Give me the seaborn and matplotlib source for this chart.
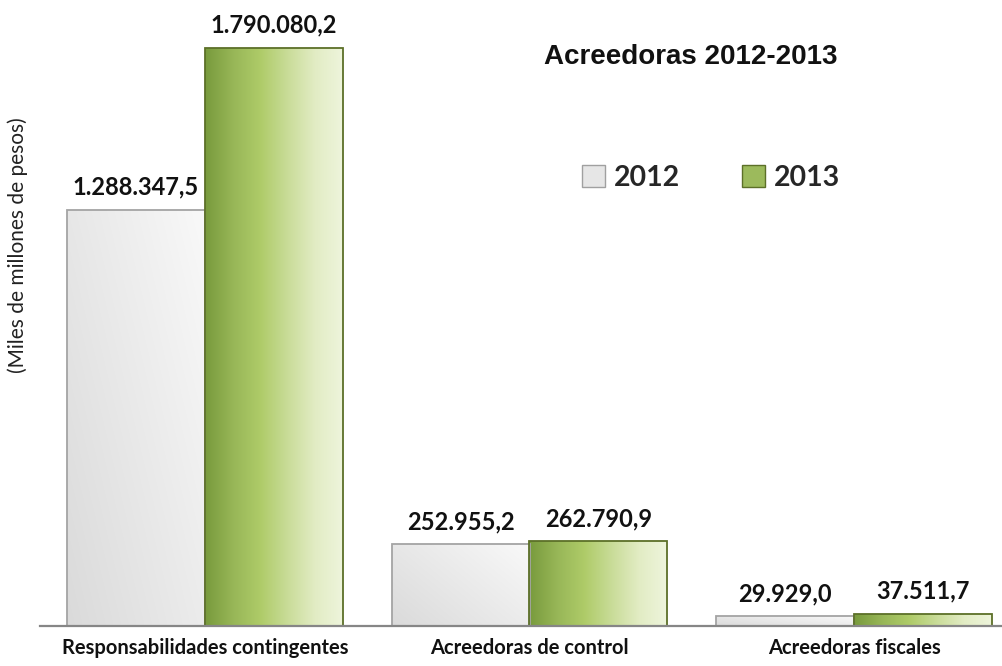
import numpy as np
import pandas as pd
import matplotlib
matplotlib.use("Agg")
import matplotlib.pyplot as plt
import seaborn as sns
from matplotlib.colors import LinearSegmentedColormap
from matplotlib.patches import Patch

# ---------------- data ----------------
categories = ["Responsabilidades contingentes", "Acreedoras de control", "Acreedoras fiscales"]
years = ["2012", "2013"]
values_2012 = [1288347.5, 252955.2, 29929.0]
values_2013 = [1790080.2, 262790.9, 37511.7]
title_text = "Acreedoras 2012-2013"
ylabel_text = "(Miles de millones de pesos)"

df = pd.DataFrame({
    "Categoria": categories * 2,
    "Año": [years[0]] * 3 + [years[1]] * 3,
    "Valor": values_2012 + values_2013,
})


def fmt(v):
    s = f"{v:,.1f}"
    return s.replace(",", "X").replace(".", ",").replace("X", ".")


sns.set_theme(style="white")
plt.rcParams["font.family"] = ["Lato", "DejaVu Sans"]

fig = plt.figure(figsize=(10.02, 6.66), dpi=100)
ax = fig.add_axes([40 / 1002, 1 - 626 / 666, 962 / 1002, 616 / 666])

palette = {"2012": "#e2e2e2", "2013": "#a8c46a"}
sns.barplot(data=df, x="Categoria", y="Valor", hue="Año", hue_order=years,
            order=categories, palette=palette, width=0.85, gap=0,
            legend=False, ax=ax, saturation=1)

ylim_top = 616 / 578 * max(values_2013)
xlim = (-165 / 324.5, 2 + 148 / 324.5)

grad_2013 = LinearSegmentedColormap.from_list(
    "g13", ["#789a3c", "#97b657", "#aecb68", "#c9dc98", "#e2ecc4", "#eef5dc"])
edges = {"2012": "#a4a4a4", "2013": "#5c7028"}

nx, ny = 256, 64
gx = np.linspace(0, 1, nx)[None, :]
gy = np.linspace(0, 1, ny)[:, None]


def gradient_image(year):
    if year == "2012":
        base = 0.905 + 0.07 * gx - 0.05 * (1 - gy)
        base = np.clip(base, 0, 1)
        return np.dstack([base, base, base])
    rgb = grad_2013(np.repeat(gx, ny, axis=0))[..., :3]
    return rgb


for year, container in zip(years, ax.containers):
    img_data = gradient_image(year)
    for bar in container:
        x, w, h = bar.get_x(), bar.get_width(), bar.get_height()
        img = ax.imshow(img_data, extent=[x, x + w, 0, h], aspect="auto",
                        origin="lower", zorder=2, interpolation="bilinear")
        img.set_clip_path(bar)
        bar.set_facecolor("none")
        bar.set_edgecolor(edges[year])
        bar.set_linewidth(1.3)
        bar.set_zorder(3)
    labels = [fmt(v) for v in container.datavalues]
    ax.bar_label(container, labels=labels, padding=8, fontsize=17,
                 fontweight="bold", color="#111111")

ax.set_xlim(*xlim)
ax.set_ylim(0, ylim_top)
ax.set_xlabel("")
ax.set_ylabel("")
ax.set_yticks([])
for side in ["top", "right", "left"]:
    ax.spines[side].set_visible(False)
ax.spines["bottom"].set_color("#868686")
ax.spines["bottom"].set_linewidth(1.6)
ax.spines["bottom"].set_zorder(4)
ax.tick_params(axis="x", length=0, pad=9)
for lab in ax.get_xticklabels():
    lab.set_fontsize(14.5)
    lab.set_fontweight("bold")
    lab.set_color("#111111")

fig.text(18 / 1002, 1 - 245 / 666, ylabel_text, rotation=90, ha="center",
         va="center", fontsize=15, color="#222222")

fig.text(691 / 1002, 1 - 57 / 666, title_text, ha="center", va="center",
         fontsize=20, fontweight="bold", family="Liberation Sans", color="#111111")

handles = [Patch(facecolor="#e6e6e6", edgecolor="#a0a0a0", label=years[0]),
           Patch(facecolor="#9cba5c", edgecolor="#5c7028", label=years[1])]
fig.legend(handles=handles, loc="center", bbox_to_anchor=(711 / 1002, 1 - 178 / 666),
           ncol=2, frameon=False, prop={"size": 20.5, "weight": "bold"},
           handlelength=0.8, handleheight=0.8, handletextpad=0.3, columnspacing=2.2)

fig.savefig("out.png", dpi=100)
